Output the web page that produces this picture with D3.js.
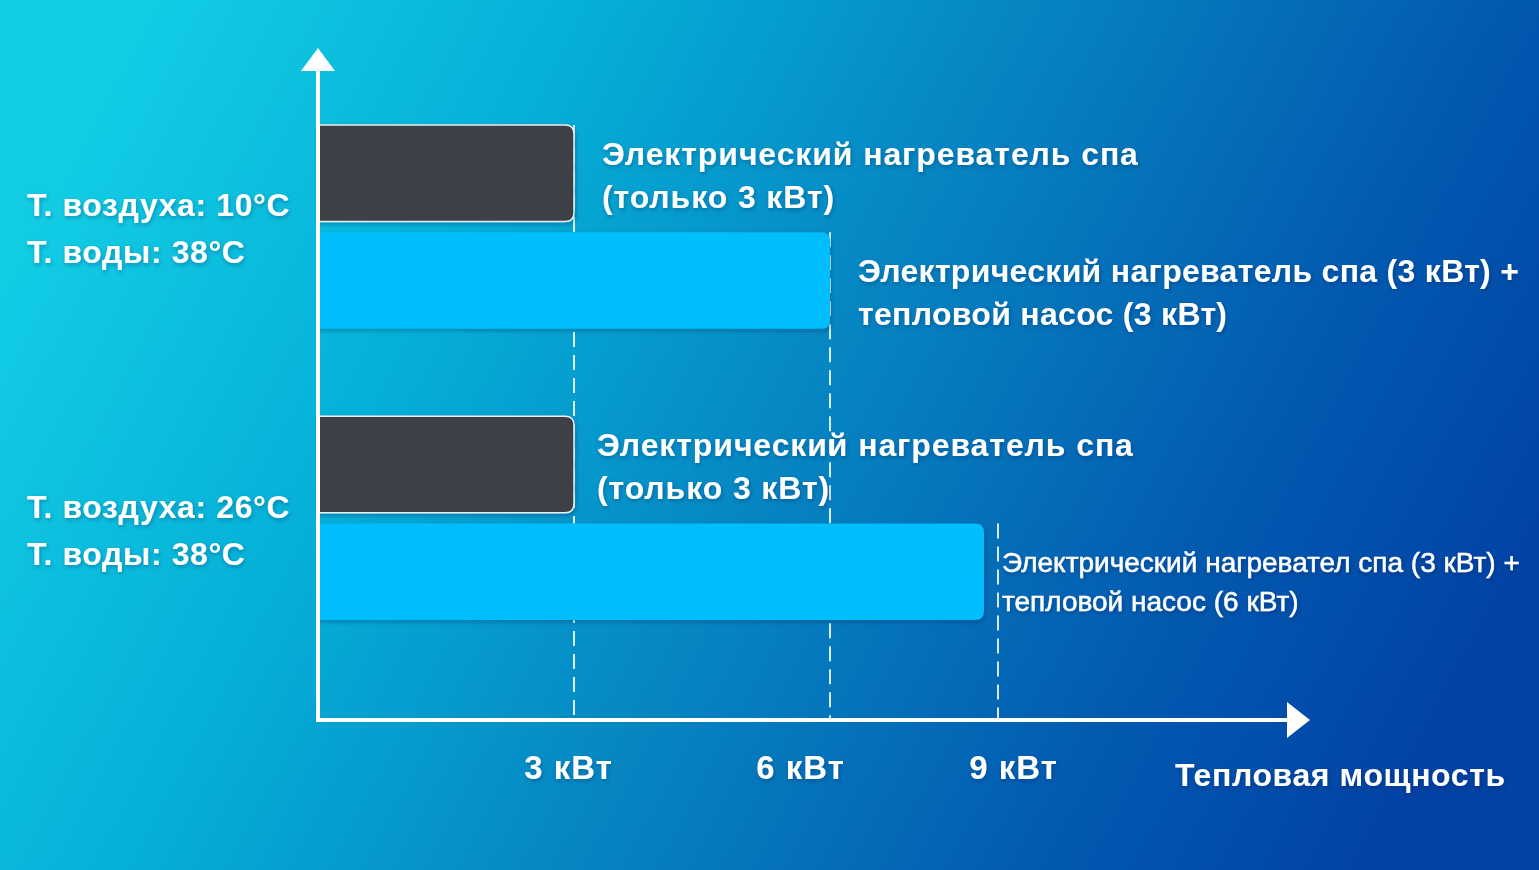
<!DOCTYPE html>
<html>
<head>
<meta charset="utf-8">
<script src="https://cdn.jsdelivr.net/npm/d3@7"></script>
<style>
  html, body { margin: 0; padding: 0; overflow: hidden; }
  svg { display: block; font-family: "Liberation Sans", Arial, sans-serif; }
</style>
</head>
<body>
<svg id="chart" width="1539" height="870"></svg>
<script>
// conditions (groups) and their labels on the left
const groups = ["g1", "g2"];
const groupLabels = [
  ["Т. воздуха: 10°C", "Т. воды: 38°C"],
  ["Т. воздуха: 26°C", "Т. воды: 38°C"]
];

// bars, two per group
const barGroup = ["g1", "g1", "g2", "g2"];
const barKind = ["heater", "combo", "heater", "combo"];
const barValues = [3, 6, 3, 8.75];
const barLabels = [
  ["Электрический нагреватель спа", "(только 3 кВт)"],
  ["Электрический нагреватель спа (3 кВт) +", "тепловой насос (3 кВт)"],
  ["Электрический нагреватель спа", "(только 3 кВт)"],
  ["Электрический нагревател спа (3 кВт) +", "тепловой насос (6 кВт)"]
];

const tickValues = [3, 6, 9];
const tickUnit = " кВт";
const xTitle = "Тепловая мощность";

const width = 1539, height = 870;
const x0 = 318, axisY = 720;

const svg = d3.select("#chart");
const defs = svg.append("defs");

let bg = defs.append("linearGradient")
  .attr("id", "bg")
  .attr("x1", 0).attr("y1", 0.35).attr("x2", 1).attr("y2", 0.65);
bg.append("stop").attr("offset", 0).attr("stop-color", "#12cce4");
bg.append("stop").attr("offset", 0.25).attr("stop-color", "#05b0d8");
bg.append("stop").attr("offset", 0.55).attr("stop-color", "#0680c0");
bg.append("stop").attr("offset", 0.8).attr("stop-color", "#0259b0");
bg.append("stop").attr("offset", 1).attr("stop-color", "#0142a4");

let shadow = defs.append("filter").attr("id", "shadow")
  .attr("x", "-10%").attr("y", "-20%").attr("width", "130%").attr("height", "160%");
shadow.append("feDropShadow")
  .attr("dx", 1).attr("dy", 2).attr("stdDeviation", 2)
  .attr("flood-color", "#002040").attr("flood-opacity", 0.3);

svg.append("rect").attr("width", width).attr("height", height).attr("fill", "url(#bg)");

// x: the picture is not linear past 6 kW, so piecewise
const x = d3.scaleLinear().domain([0, 3, 6, 9]).range([x0, 574, 830, 998]);

const yGroup = d3.scaleBand().domain(groups).range([125, 620]).paddingInner(0.3);
const yBar = d3.scaleBand().domain([0, 1]).range([0, yGroup.bandwidth()]).paddingInner(0.1);

const bars = barValues.map((v, i) => ({
  value: v,
  kind: barKind[i],
  group: barGroup[i],
  y: yGroup(barGroup[i]) + yBar(i % 2),
  label: barLabels[i],
  small: i === 3
}));

// dashed guides, start at the top of the first bar that reaches the tick
svg.append("g").selectAll("line")
  .data(tickValues)
  .join("line")
  .attr("x1", d => x(d)).attr("x2", d => x(d))
  .attr("y1", d => {
    let b = bars.find(b => b.value >= d - 0.5);
    return b ? b.y : 126;
  })
  .attr("y2", axisY)
  .attr("stroke", "#ffffff")
  .attr("stroke-opacity", 0.85)
  .attr("stroke-width", 2)
  .attr("stroke-dasharray", "15,8");

// bars: square on the left, rounded on the right
const r = 9;
function barPath(xa, xb, y, h) {
  return "M" + xa + "," + y +
    "H" + (xb - r) +
    "Q" + xb + "," + y + " " + xb + "," + (y + r) +
    "V" + (y + h - r) +
    "Q" + xb + "," + (y + h) + " " + (xb - r) + "," + (y + h) +
    "H" + xa + "Z";
}

svg.append("g").selectAll("path")
  .data(bars)
  .join("path")
  .attr("d", d => barPath(x(0), x(d.value), d.y, yBar.bandwidth()))
  .attr("fill", d => d.kind === "heater" ? "#3c4146" : "#00bdfb")
  .attr("stroke", d => d.kind === "heater" ? "#e8eef2" : "none")
  .attr("stroke-width", 1.5)
  .attr("filter", "url(#shadow)");

// bar labels
let barText = svg.append("g").selectAll("text")
  .data(bars)
  .join("text")
  .attr("x", (d, i) => x(d.value) + (d.small ? 18 : i === 2 ? 23 : 28))
  .attr("y", d => d.y + yBar.bandwidth() / 2 + (d.small ? 11 : d.kind === "combo" ? 15 : 5))
  .attr("fill", "#ffffff")
  .attr("stroke", d => d.small ? "#ffffff" : "none")
  .attr("stroke-width", 0.5)
  .attr("font-weight", d => d.small ? "normal" : "bold")
  .attr("font-size", d => d.small ? 28 : 32)
  .attr("letter-spacing", d => d.small ? 0 : d.kind === "heater" ? 0.9 : 0.3)
  .attr("filter", "url(#shadow)");
barText.selectAll("tspan")
  .data(d => d.label.map((t, j) => ({ t, j, small: d.small })))
  .join("tspan")
  .attr("x", function () { return d3.select(this.parentNode).attr("x"); })
  .attr("dy", d => d.j === 0 ? (d.small ? "-0.4em" : "-0.42em") : (d.small ? "1.4em" : "1.35em"))
  .text(d => d.t);

// group labels on the left
let gText = svg.append("g").selectAll("text")
  .data(groups)
  .join("text")
  .attr("x", 27)
  .attr("y", (d, i) => yGroup(d) + yGroup.bandwidth() / 2 + (i === 0 ? 2 : 13))
  .attr("fill", "#ffffff")
  .attr("font-weight", "bold")
  .attr("font-size", 32)
  .attr("letter-spacing", 0.6)
  .attr("filter", "url(#shadow)");
gText.selectAll("tspan")
  .data((d, i) => groupLabels[i].map((t, j) => ({ t, j })))
  .join("tspan")
  .attr("x", 27)
  .attr("dy", d => d.j === 0 ? "-0.4em" : "1.47em")
  .text(d => d.t);

// x axis tick labels, nudged a little as in the picture
const tickShift = [-6, -30, 15];
let xAxis = svg.append("g")
  .attr("transform", "translate(0," + axisY + ")")
  .call(d3.axisBottom(x).tickValues(tickValues).tickSize(0).tickPadding(36)
    .tickFormat(d => d + tickUnit));
xAxis.select(".domain").remove();
xAxis.selectAll("text")
  .attr("dx", (d, i) => tickShift[i])
  .attr("fill", "#ffffff")
  .attr("font-family", "Liberation Sans, Arial, sans-serif")
  .attr("font-weight", "bold")
  .attr("font-size", 33)
  .attr("letter-spacing", 1)
  .attr("filter", "url(#shadow)");

// axis lines with arrows
svg.append("line")
  .attr("x1", x0).attr("x2", x0).attr("y1", axisY + 2).attr("y2", 68)
  .attr("stroke", "#ffffff").attr("stroke-width", 4);
svg.append("path")
  .attr("d", "M" + (x0 - 17) + ",71 L" + x0 + ",48 L" + (x0 + 17) + ",71 Z")
  .attr("fill", "#ffffff");
svg.append("line")
  .attr("x1", x0 - 2).attr("x2", 1290).attr("y1", axisY).attr("y2", axisY)
  .attr("stroke", "#ffffff").attr("stroke-width", 4);
svg.append("path")
  .attr("d", "M1287," + (axisY - 18) + " L1310," + axisY + " L1287," + (axisY + 18) + " Z")
  .attr("fill", "#ffffff");

svg.append("text")
  .attr("x", 1175).attr("y", 786)
  .attr("fill", "#ffffff")
  .attr("font-weight", "bold")
  .attr("font-size", 32)
  .attr("letter-spacing", 0.6)
  .attr("filter", "url(#shadow)")
  .text(xTitle);
</script>
</body>
</html>
